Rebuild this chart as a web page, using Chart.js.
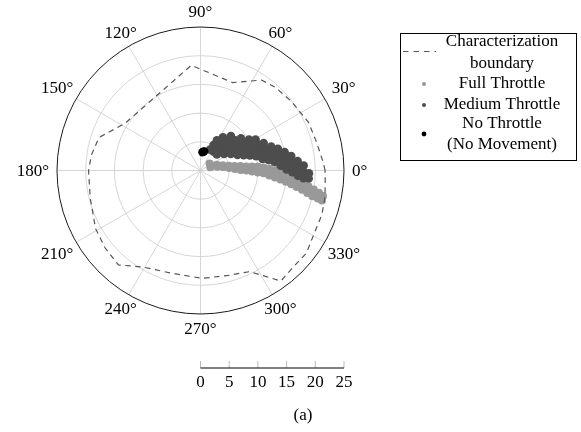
<!DOCTYPE html>
<html>
<head>
<meta charset="utf-8">
<script src="https://cdn.jsdelivr.net/npm/chart.js@4.4.1/dist/chart.umd.min.js"></script>
<style>
  html, body { margin: 0; padding: 0; background: #fff; }
  canvas { display: block; }
</style>
</head>
<body>
<canvas id="chart-polar" width="581" height="432"></canvas>
<script>
// polar data as [angle in degrees, radius]
const angleTicks = [0, 30, 60, 90, 120, 150, 180, 210, 240, 270, 300, 330];
const radialTicks = [0, 5, 10, 15, 20, 25];
const ringValues = [5, 10, 15, 20];
const rMax = 25;

const boundary = [
  [0, 21.7], [4, 21.4], [14, 20.8], [24, 20.6], [37, 19.9], [48, 19.5], [56, 19.0],
  [70, 16.3], [95, 18.4], [148, 15.5], [162, 18.6], [172, 19.2], [180, 19.5],
  [194, 19.8], [209, 20.9], [219, 21.4], [229, 21.8], [239, 19.6], [254, 18.6],
  [271, 18.8], [285, 18.9], [296, 19.6], [306, 23.8], [315, 23.3], [322, 23.4],
  [330, 22.7], [340, 22.5], [347, 22.2], [353, 21.9], [360, 21.7]
];

const fullThrottle = [
  [38, 2.0], [18, 1.8],
  [19.3, 3], [12.7, 3],
  [13.5, 4], [8.5, 4],
  [9.7, 5], [4.9, 5],
  [7.7, 6], [2.7, 6],
  [6.4, 7], [3.6, 7], [0.8, 7],
  [5.1, 8], [2.6, 8], [0.1, 8],
  [4.5, 9], [1.7, 9], [-1.1, 9],
  [4.0, 10], [1.0, 10], [-2.0, 10],
  [2.8, 11], [0.1, 11], [-2.6, 11],
  [1.6, 12], [-1.3, 12], [-4.2, 12],
  [0.1, 13], [-2.6, 13], [-5.3, 13],
  [-1.5, 14], [-4.0, 14], [-6.5, 14],
  [-2.9, 15], [-5.2, 15], [-7.5, 15],
  [-4.2, 16], [-6.4, 16], [-8.6, 16],
  [-5.7, 17], [-7.7, 17], [-9.8, 17],
  [-7.0, 18], [-8.9, 18], [-10.8, 18],
  [-8.3, 19], [-10.1, 19], [-11.9, 19],
  [-9.5, 20], [-11.2, 20], [-13.0, 20],
  [-10.6, 21], [-12.0, 21], [-13.4, 21],
  [-11.7, 21.8], [-13.9, 21.8]
];

const mediumThrottle = [
  [65.5, 4], [55, 4], [44.5, 4],
  [63, 5], [53.7, 5], [44.3, 5], [35, 5],
  [61.5, 6], [53.2, 6], [45, 6], [36.8, 6], [28.5, 6],
  [56, 7], [47.5, 7], [39.2, 7], [31, 7], [22.8, 7],
  [48.5, 8], [41.1, 8], [33.9, 8], [26.7, 8], [19.5, 8],
  [38.5, 9], [31.5, 9], [24.2, 9], [17, 9],
  [32.5, 10], [26.4, 10], [20.4, 10], [14.4, 10],
  [29.3, 11], [24.6, 11], [19.9, 11], [15.2, 11], [10.5, 11],
  [23.5, 12], [18.6, 12], [13.7, 12], [8.8, 12],
  [18.7, 13], [14.6, 13], [10.6, 13], [6.5, 13],
  [15.7, 14], [11.6, 14], [7.5, 14], [3.4, 14],
  [12.3, 15], [8.4, 15], [4.6, 15], [0.7, 15],
  [9.1, 16], [5.7, 16], [2.3, 16], [-1.0, 16],
  [5.6, 17], [2.7, 17], [-0.2, 17], [-3.1, 17],
  [2.8, 18], [-0.8, 18], [-4.3, 18],
  [-1.5, 18.9], [-4.2, 18.9]
];

const noThrottle = [[81.5, 3.3], [79, 3.4], [84, 3.2]];

const legendLabels = [
  ['Characterization', 'boundary'],
  ['Full Throttle'],
  ['Medium Throttle'],
  ['No Throttle', '(No Movement)']
];

const boundaryColor = '#555555';
const fullColor = '#999999';
const mediumColor = '#4d4d4d';
const noColor = '#000000';
const gridColor = '#cccccc';
const FONT = '"Liberation Serif", "Times New Roman", serif';

const toXY = pts => pts.map(([deg, r]) => ({
  x: r * Math.cos(deg * Math.PI / 180),
  y: r * Math.sin(deg * Math.PI / 180)
}));

const polarFrame = {
  id: 'polarFrame',
  beforeDatasetsDraw(chart) {
    const { ctx, scales: { x, y } } = chart;
    const cx = x.getPixelForValue(0);
    const cy = y.getPixelForValue(0);
    const rad = v => x.getPixelForValue(v) - cx;
    const R = rad(rMax);

    ctx.save();
    ctx.strokeStyle = gridColor;
    ctx.lineWidth = 0.8;
    ringValues.forEach(v => {
      ctx.beginPath();
      ctx.arc(cx, cy, rad(v), 0, Math.PI * 2);
      ctx.stroke();
    });
    angleTicks.forEach(a => {
      const t = a * Math.PI / 180;
      ctx.beginPath();
      ctx.moveTo(cx, cy);
      ctx.lineTo(cx + R * Math.cos(t), cy - R * Math.sin(t));
      ctx.stroke();
    });

    ctx.strokeStyle = '#000';
    ctx.lineWidth = 0.9;
    ctx.beginPath();
    ctx.arc(cx, cy, R, 0, Math.PI * 2);
    ctx.stroke();

    // angle labels, anchored on the side facing the circle
    ctx.fillStyle = '#000';
    ctx.font = '17px ' + FONT;
    ctx.textAlign = 'center';
    ctx.textBaseline = 'middle';
    angleTicks.forEach(a => {
      const t = a * Math.PI / 180;
      const c = Math.cos(t), s = Math.sin(t);
      const label = a + '°';
      const hw = ctx.measureText(label).width / 2, hh = 7;
      const k = Math.min(
        Math.abs(c) > 1e-6 ? hw / Math.abs(c) : Infinity,
        Math.abs(s) > 1e-6 ? hh / Math.abs(s) : Infinity
      );
      const px = cx + (R + 8 + k) * c;
      const py = cy - (R + 8 + k) * s;
      ctx.fillText(label, px, py + 1);
    });
    ctx.restore();
  },
  afterDraw(chart) {
    const { ctx, scales: { x }, chartArea } = chart;
    ctx.save();

    // radius axis under the plot
    const axisY = chartArea.bottom + 54;
    ctx.strokeStyle = '#aaaaaa';
    ctx.lineWidth = 0.8;
    radialTicks.forEach(v => {
      const px = x.getPixelForValue(v);
      ctx.beginPath();
      ctx.moveTo(px, axisY - 7);
      ctx.lineTo(px, axisY);
      ctx.stroke();
    });
    ctx.strokeStyle = '#000';
    ctx.lineWidth = 1;
    ctx.beginPath();
    ctx.moveTo(x.getPixelForValue(0), axisY);
    ctx.lineTo(x.getPixelForValue(rMax), axisY);
    ctx.stroke();
    ctx.fillStyle = '#000';
    ctx.font = '17px ' + FONT;
    ctx.textAlign = 'center';
    ctx.textBaseline = 'middle';
    radialTicks.forEach(v => {
      ctx.fillText(String(v), x.getPixelForValue(v), axisY + 15);
    });

    // caption
    ctx.fillText('(a)', 303, 416);

    // legend box
    ctx.strokeStyle = '#000';
    ctx.lineWidth = 1;
    ctx.strokeRect(400.5, 33.5, 176, 127);
    const textX = 502, markX = 424;
    const rows = [[42, 63.5], [84], [104.5], [124, 145]];
    legendLabels.forEach((lines, i) => {
      lines.forEach((line, j) => ctx.fillText(line, textX, rows[i][j]));
    });
    ctx.strokeStyle = boundaryColor;
    ctx.lineWidth = 1.1;
    ctx.setLineDash([5.5, 5]);
    ctx.beginPath();
    ctx.moveTo(403, 51.5);
    ctx.lineTo(436, 51.5);
    ctx.stroke();
    ctx.setLineDash([]);
    [[fullColor, 84, 2], [mediumColor, 105, 2], [noColor, 134, 2.4]].forEach(([col, py, r]) => {
      ctx.fillStyle = col;
      ctx.beginPath();
      ctx.arc(markX, py, r, 0, Math.PI * 2);
      ctx.fill();
    });
    ctx.restore();
  }
};

new Chart(document.getElementById('chart-polar'), {
  type: 'scatter',
  data: {
    datasets: [
      {
        label: 'Characterization boundary',
        data: toXY(boundary),
        showLine: true,
        borderColor: boundaryColor,
        borderWidth: 1.2,
        borderDash: [5.5, 4.5],
        pointRadius: 0,
        tension: 0,
        order: 1
      },
      {
        label: 'Full Throttle',
        data: toXY(fullThrottle),
        backgroundColor: fullColor,
        borderWidth: 0,
        pointRadius: 4,
        order: 4
      },
      {
        label: 'Medium Throttle',
        data: toXY(mediumThrottle),
        backgroundColor: mediumColor,
        borderWidth: 0,
        pointRadius: 4.3,
        order: 3
      },
      {
        label: 'No Throttle (No Movement)',
        data: toXY(noThrottle),
        backgroundColor: noColor,
        borderWidth: 0,
        pointRadius: 4.2,
        order: 2
      }
    ]
  },
  options: {
    responsive: false,
    animation: false,
    events: [],
    layout: { padding: { left: 57, top: 27, right: 237, bottom: 118 } },
    scales: {
      x: { type: 'linear', min: -rMax, max: rMax, display: false },
      y: { type: 'linear', min: -rMax, max: rMax, display: false }
    },
    plugins: {
      legend: { display: false },
      tooltip: { enabled: false }
    }
  },
  plugins: [polarFrame]
});
</script>
</body>
</html>
